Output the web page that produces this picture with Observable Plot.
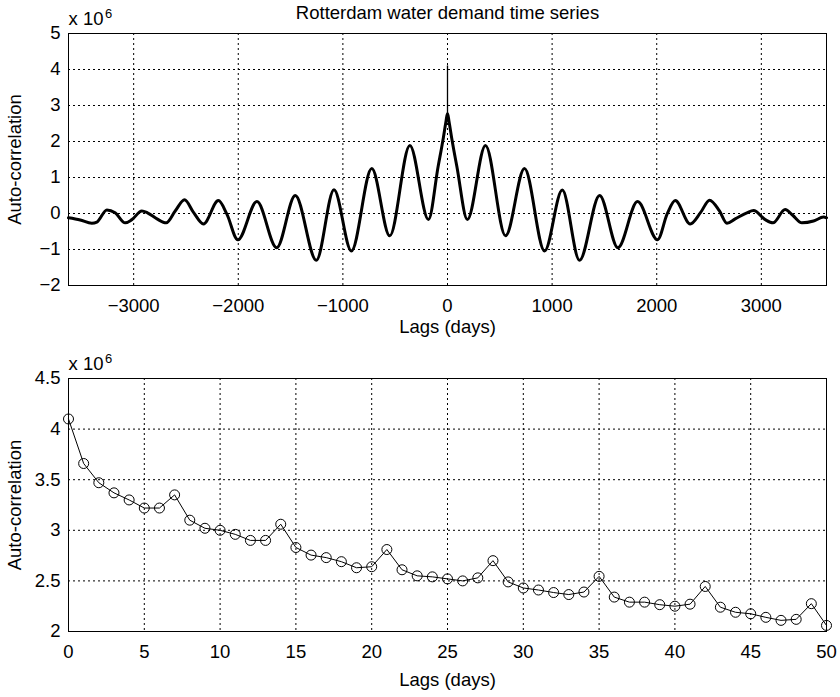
<!DOCTYPE html>
<html>
<head>
<meta charset="utf-8">
<script src="https://cdn.jsdelivr.net/npm/d3@7"></script>
<script src="https://cdn.jsdelivr.net/npm/@observablehq/plot@0.6"></script>
<style>
  html, body { margin: 0; padding: 0; background: #fff; }
  #chart { position: relative; width: 840px; height: 697px; }
  #chart svg { display: block; }
</style>
</head>
<body>
<div id="chart"></div>
<script>
// ---- Data (auto-correlation values in units of 10^6) ----
const title = "Rotterdam water demand time series";
const xLabel = "Lags (days)";
const yLabel = "Auto-correlation";

// Top panel: turning points of the long-lag auto-correlation curve
const lagsTop = [-3623, -3511, -3400, -3352, -3256, -3177, -3081, -3017, -2922, -2868, -2777, -2689,
  -2603, -2514, -2428, -2333, -2190, -2110, -2004, -1822, -1633, -1455, -1254, -1085, -919, -724,
  -552, -360, -182, -90, -40, -15, 0, 15, 40, 90, 190, 363, 555, 736, 928, 1097, 1262, 1454, 1629, 1817,
  2008, 2100, 2177, 2320, 2420, 2505, 2600, 2671, 2750, 2862, 2926, 3037, 3111, 3228, 3300, 3388,
  3499, 3595, 3623];
const acfTop = [-0.12, -0.18, -0.27, -0.24, 0.10, 0.02, -0.26, -0.17, 0.07, 0.02, -0.15, -0.26,
  0.07, 0.38, 0.03, -0.29, 0.36, -0.01, -0.73, 0.33, -0.95, 0.50, -1.30, 0.66, -1.04, 1.25,
  -0.62, 1.89, -0.17, 1.30, 2.10, 2.55, 2.78, 2.55, 2.10, 1.30, -0.17, 1.89, -0.62, 1.25, -1.04, 0.65, -1.30, 0.50, -0.95, 0.33,
  -0.73, -0.01, 0.36, -0.29, 0.03, 0.37, 0.07, -0.27, -0.15, 0.02, 0.08, -0.17, -0.26, 0.11, -0.05, -0.26,
  -0.21, -0.10, -0.12];
const xTicksTop = [-3000, -2000, -1000, 0, 1000, 2000, 3000];
const yTicksTop = [-2, -1, 0, 1, 2, 3, 4, 5];

// Bottom panel: lags 0..50
const lagsBottom = d3.range(0, 51);
const acfBottom = [4.10, 3.66, 3.47, 3.37, 3.30, 3.22, 3.22, 3.35, 3.10, 3.02, 3.00, 2.96, 2.90, 2.90,
  3.06, 2.83, 2.755, 2.73, 2.69, 2.63, 2.64, 2.81, 2.61, 2.55, 2.54, 2.52, 2.50, 2.53, 2.70, 2.49,
  2.43, 2.41, 2.385, 2.365, 2.39, 2.545, 2.34, 2.29, 2.29, 2.265, 2.25, 2.27, 2.445, 2.24, 2.19,
  2.175, 2.14, 2.11, 2.12, 2.275, 2.06];
const xTicksBottom = [0, 5, 10, 15, 20, 25, 30, 35, 40, 45, 50];
const yTicksBottom = [2, 2.5, 3, 3.5, 4, 4.5];

const topData = lagsTop.map((l, i) => ({lag: l, v: acfTop[i]}));
const bottomData = lagsBottom.map((l, i) => ({lag: l, v: acfBottom[i]}));
const spike = [{lag: 0, lo: acfTop[lagsTop.indexOf(0)], hi: acfBottom[0]}];

const FONT = "'Liberation Sans', Arial, Helvetica, sans-serif";
const FS = 18.5;
const minusFmt = d => d < 0 ? "\u2212" + (-d) : String(d);
const dots = "2,3";

function frameMarks(xTicks, yTicks, withTitle, xLabelDy) {
  const m = [
    Plot.gridX(xTicks, {stroke: "black", strokeOpacity: 1, strokeWidth: 1, strokeDasharray: dots}),
    Plot.gridY(yTicks, {stroke: "black", strokeOpacity: 1, strokeWidth: 1, strokeDasharray: dots}),
    Plot.axisX(xTicks, {anchor: "bottom", tickSize: 0, tickPadding: 13, tickFormat: minusFmt, label: null, fontSize: FS}),
    Plot.axisY(yTicks, {anchor: "left", tickSize: 0, tickPadding: 8, tickFormat: minusFmt, label: null, fontSize: FS}),
    Plot.text([xLabel], {text: d => d, frameAnchor: "bottom", textAnchor: "middle", lineAnchor: "middle", dy: xLabelDy, fontSize: FS}),
    Plot.text([yLabel], {text: d => d, frameAnchor: "left", textAnchor: "middle", lineAnchor: "middle", dx: -53, rotate: -90, fontSize: FS}),
    Plot.text(["x 10"], {text: d => d, frameAnchor: "top-left", textAnchor: "start", lineAnchor: "middle", dy: -14, fontSize: FS}),
    Plot.text(["6"], {text: d => d, frameAnchor: "top-left", textAnchor: "start", lineAnchor: "middle", dx: 36.5, dy: -20, fontSize: 13}),
  ];
  if (withTitle) m.push(Plot.text([title], {text: d => d, frameAnchor: "top", textAnchor: "middle", lineAnchor: "middle", dy: -20, fontSize: FS}));
  return m;
}

const common = {
  width: 840,
  marginLeft: 68,
  marginRight: 14,
  style: {fontFamily: FONT, fontSize: FS + "px", color: "black", background: "white", overflow: "visible"}
};

const topPlot = Plot.plot({
  ...common,
  height: 340,
  marginTop: 33,
  marginBottom: 55,
  x: {domain: [-3623, 3623], axis: null},
  y: {domain: [-2, 5], axis: null},
  marks: [
    ...frameMarks(xTicksTop, yTicksTop, true, 42),
    Plot.line(topData, {x: "lag", y: "v", curve: "monotone-x", stroke: "black", strokeWidth: 3, strokeLinejoin: "round"}),
    Plot.ruleX(spike, {x: "lag", y1: "lo", y2: "hi", stroke: "black", strokeWidth: 1.3}),
    Plot.frame({stroke: "black", strokeWidth: 1})
  ]
});

const bottomPlot = Plot.plot({
  ...common,
  height: 357,
  marginTop: 38,
  marginBottom: 66,
  x: {domain: [0, 50], axis: null},
  y: {domain: [2, 4.5], axis: null},
  marks: [
    ...frameMarks(xTicksBottom, yTicksBottom, false, 49),
    Plot.line(bottomData, {x: "lag", y: "v", stroke: "black", strokeWidth: 1}),
    Plot.dot(bottomData, {x: "lag", y: "v", r: 5, stroke: "black", strokeWidth: 1, fill: "none"}),
    Plot.frame({stroke: "black", strokeWidth: 1})
  ]
});

const chart = document.getElementById("chart");
chart.appendChild(topPlot);
chart.appendChild(bottomPlot);
</script>
</body>
</html>
